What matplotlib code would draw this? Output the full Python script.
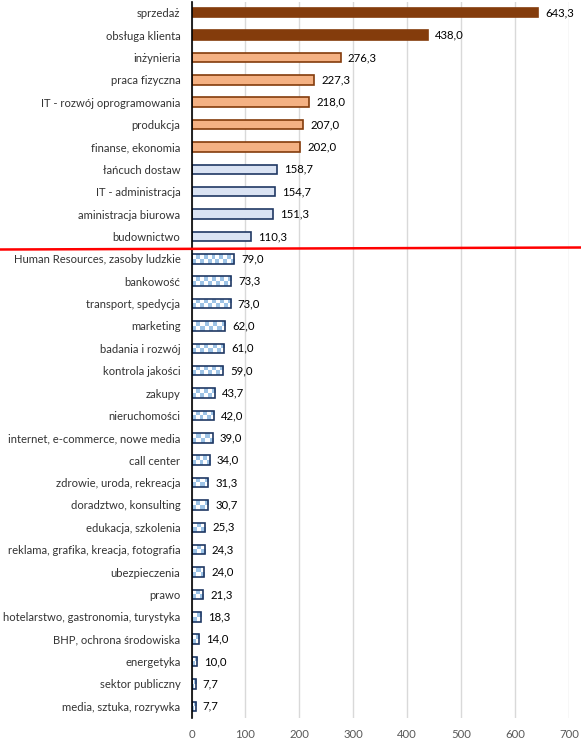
import matplotlib
import numpy as np

matplotlib.use("Agg")
import matplotlib.pyplot as plt  # noqa: E402
from matplotlib.lines import Line2D  # noqa: E402

plt.rcParams["font.family"] = ["Lato", "DejaVu Sans"]

categories = [
    "sprzedaż", "obsługa klienta", "inżynieria", "praca fizyczna",
    "IT - rozwój oprogramowania", "produkcja", "finanse, ekonomia",
    "łańcuch dostaw", "IT - administracja", "aministracja biurowa",
    "budownictwo", "Human Resources, zasoby ludzkie", "bankowość",
    "transport, spedycja", "marketing", "badania i rozwój",
    "kontrola jakości", "zakupy", "nieruchomości",
    "internet, e-commerce, nowe media", "call center",
    "zdrowie, uroda, rekreacja", "doradztwo, konsulting",
    "edukacja, szkolenia", "reklama, grafika, kreacja, fotografia",
    "ubezpieczenia", "prawo", "hotelarstwo, gastronomia, turystyka",
    "BHP, ochrona środowiska", "energetyka", "sektor publiczny",
    "media, sztuka, rozrywka",
]
values = [
    643.3, 438.0, 276.3, 227.3, 218.0, 207.0, 202.0, 158.7, 154.7, 151.3,
    110.3, 79.0, 73.3, 73.0, 62.0, 61.0, 59.0, 43.7, 42.0, 39.0, 34.0,
    31.3, 30.7, 25.3, 24.3, 24.0, 21.3, 18.3, 14.0, 10.0, 7.7, 7.7,
]
# group of each bar: 0 = top, 1 = high, 2 = middle, 3 = low (checkered)
groups = [0, 0] + [1] * 5 + [2] * 4 + [3] * 21

n = len(categories)
W, H = 581, 740
fig = plt.figure(figsize=(W / 100, H / 100), dpi=100)
ax_left, ax_right = 191.5 / W, 569 / W
ax_top, ax_bot = 1.5 / H, 717.5 / H
ax = fig.add_axes([ax_left, 1 - ax_bot, ax_right - ax_left, ax_bot - ax_top])

ypos = np.arange(n)
bar_h = 0.42
styles = {
    0: dict(color="#843C0C", edgecolor="#843C0C"),
    1: dict(color="#F4B183", edgecolor="#843C0C"),
    2: dict(color="#DAE3F3", edgecolor="#203864"),
    3: dict(color="white", edgecolor="#1F3864"),
}

px_per_unit = (ax_right - ax_left) * W / 700
cmap = matplotlib.colors.ListedColormap(["white", "#9DC3E6"])

for y, v, g in zip(ypos, values, groups):
    st = styles[g]
    bar = ax.barh(y, v, height=bar_h, color=st["color"], linewidth=0, zorder=2)[0]
    if g == 3:
        # checkerboard texture, ~4 px squares, two rows per bar
        ncol = max(2, int(round(v * px_per_unit / 4)))
        checker = (np.add.outer(np.arange(2), np.arange(ncol)) % 2).astype(float)
        im = ax.imshow(checker, cmap=cmap, vmin=0, vmax=1,
                       extent=(0, v, y + bar_h / 2, y - bar_h / 2),
                       aspect="auto", interpolation="nearest", zorder=2.5)
        im.set_clip_path(bar)
    ax.barh(y, v, height=bar_h, fill=False, edgecolor=st["edgecolor"],
            linewidth=1.2, zorder=3)
    ax.text(v + 13, y, f"{v:.1f}".replace(".", ","), va="center", ha="left",
            fontsize=8.2, color="#000000", zorder=4)

ax.set_xlim(0, 700)
ax.set_ylim(n - 0.5, -0.5)
ax.set_xticks(np.arange(0, 701, 100))
ax.set_yticks(ypos)
ax.set_yticklabels(categories, fontsize=8.1, color="#333333")
ax.tick_params(axis="y", length=0, pad=8)
ax.tick_params(axis="x", length=0, labelsize=8.2, labelcolor="#595959", pad=8)
ax.grid(axis="x", color="#D9D9D9", linewidth=1, zorder=0)
ax.set_axisbelow(True)
for side in ("top", "right", "bottom"):
    ax.spines[side].set_visible(False)
ax.spines["left"].set_color("black")
ax.spines["left"].set_linewidth(1.2)
ax.spines["left"].set_zorder(5)

# red separator between the groups
fig.add_artist(Line2D([0, 1], [1 - 249.5 / H, 1 - 247.5 / H], color="#FF0000",
                      linewidth=1.8, transform=fig.transFigure))

fig.savefig("out.png", dpi=100)
